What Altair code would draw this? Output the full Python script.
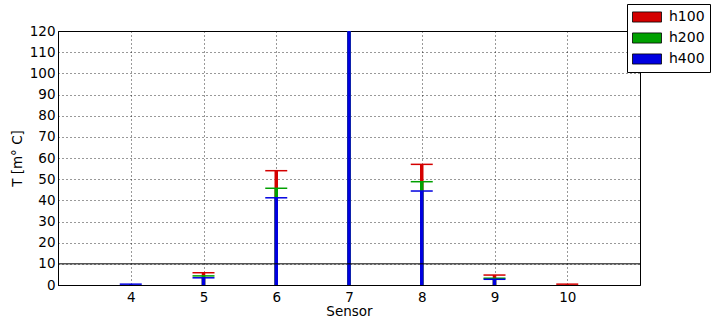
import altair as alt
import pandas as pd

sensors = [4, 5, 6, 7, 8, 9, 10]
series_names = ["h100", "h200", "h400"]
h100 = [None, 5.8, 54.0, 130.0, 57.0, 4.7, 0.4]
h200 = [None, 4.3, 45.7, 128.0, 48.8, 3.2, None]
h400 = [0.4, 3.4, 41.2, 126.0, 44.4, 2.7, None]
colors = ["#d40000", "#00a000", "#0000e0"]
threshold = 10

rows = []
for name, vals in zip(series_names, [h100, h200, h400]):
    for s, v in zip(sensors, vals):
        if v is not None:
            rows.append({"sensor": s, "series": name, "stem_series": name, "value": v})
df = pd.DataFrame(rows)

FONT = "DejaVu Sans"

x = alt.X("sensor:Q", scale=alt.Scale(domain=[3, 11], nice=False, zero=False),
          axis=alt.Axis(values=sensors, format="d", title="Sensor", grid=True,
                        gridDash=[1, 3], gridColor="black", gridOpacity=0.8,
                        ticks=False, labelPadding=5, titlePadding=1, labelOverlap=False))
yaxis = alt.Axis(values=list(range(0, 121, 10)), title="T [m° C]", grid=True,
                 gridDash=[1, 3], gridColor="black", gridOpacity=0.8,
                 ticks=False, labelPadding=3, titlePadding=5, labelOverlap=False)
yscale = alt.Scale(domain=[0, 120], nice=False)
y = alt.Y("value:Q", scale=yscale, axis=yaxis)

stems = alt.Chart(df).mark_rule(strokeWidth=3.5, strokeCap="butt", clip=True).encode(
    x=x,
    y=y,
    y2=alt.datum(0),
    stroke=alt.Stroke("stem_series:N", scale=alt.Scale(domain=series_names, range=colors), legend=None),
)

caps = alt.Chart(df).mark_tick(orient="horizontal", size=22, thickness=1.5, opacity=1, clip=True).encode(
    x=x,
    y=y,
    color=alt.Color("series:N", scale=alt.Scale(domain=series_names, range=colors),
                    legend=alt.Legend(title=None)),
)

hline = alt.Chart(pd.DataFrame({"value": [threshold]})).mark_rule(color="black", strokeWidth=1).encode(
    y=y
)

chart = alt.layer(stems, hline, caps).resolve_scale(
    color="independent", stroke="independent"
).properties(
    width=582, height=254,
    autosize=alt.AutoSizeParams(type="none"),
    padding={"left": 58, "top": 31, "right": 71, "bottom": 35},
).configure_view(stroke="black", strokeWidth=1).configure_axis(
    labelFont=FONT, titleFont=FONT, labelFontSize=13.5, titleFontSize=13.5,
    titleFontWeight="normal", labelColor="black", titleColor="black",
    domainColor="black",
).configure_legend(
    orient="none", legendX=569, legendY=-27,
    strokeColor="black", fillColor="white", padding=5, cornerRadius=0,
    symbolType="M-1,-0.35H1V0.35H-1Z", symbolSize=841,
    symbolStrokeColor="black", symbolStrokeWidth=0.8, symbolOpacity=1,
    labelFont=FONT, labelFontSize=14, labelColor="black", rowPadding=5, labelOffset=7,
    clipHeight=16,
)

chart.save("out.html", embed_options={"renderer": "svg", "actions": False})
